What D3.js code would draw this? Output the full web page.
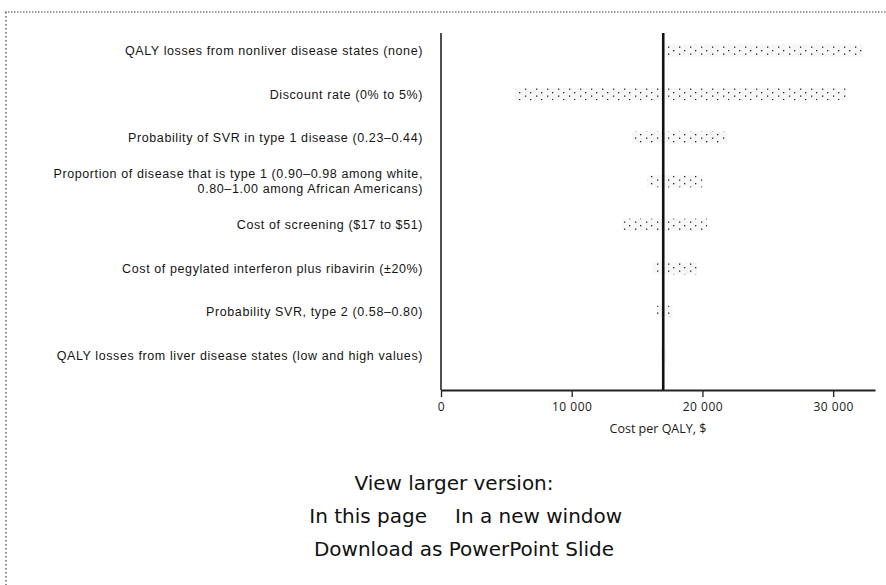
<!DOCTYPE html>
<html><head><meta charset="utf-8">
<script src="https://cdn.jsdelivr.net/npm/d3@7"></script>
<style>body{margin:0;background:#fff;} svg{display:block;}</style>
</head><body><svg id="chart" width="886" height="585"></svg>
<script>
// ---- data ----
const categories = [
  "QALY losses from nonliver disease states (none)",
  "Discount rate (0% to 5%)",
  "Probability of SVR in type 1 disease (0.23–0.44)",
  "Proportion of disease that is type 1 (0.90–0.98 among white,\n0.80–1.00 among African Americans)",
  "Cost of screening ($17 to $51)",
  "Cost of pegylated interferon plus ribavirin (±20%)",
  "Probability SVR, type 2 (0.58–0.80)",
  "QALY losses from liver disease states (low and high values)"
];
const lowValues  = [17000, 5700, 14600, 15800, 13850, 16200, 16500, 16800];
const highValues = [32300, 31000, 21900, 20000, 20350, 19600, 17700, 17300];
const baseValue = 17000;
const tickValues = [0, 10000, 20000, 30000];
const tickLabels = ["0", "10 000", "20 000", "30 000"];
const axisTitle = "Cost per QALY, $";
const footerLines = [["View larger version:"], ["In this page", "In a new window"], ["Download as PowerPoint Slide"]];

// ---- chart ----
const svg = d3.select("#chart");
const W = 886, H = 585;
const plotTop = 33, plotBottom = 390;
const x = d3.scaleLinear().domain([0, 33200]).range([441, 875]);
const y = d3.scaleBand().domain(categories).range([29, 377]).paddingInner(0.72).paddingOuter(0.36);

// page border (dotted, scanned look)
svg.append("line").attr("x1", 5).attr("x2", W).attr("y1", 12).attr("y2", 12)
  .attr("stroke", "#444").attr("stroke-width", 1.2).attr("stroke-dasharray", "1.5,1.5");
svg.append("line").attr("x1", 6).attr("x2", 6).attr("y1", 12).attr("y2", H)
  .attr("stroke", "#444").attr("stroke-width", 1.2).attr("stroke-dasharray", "1.5,2.5");

// speckled pattern for bars
const defs = svg.append("defs");
const pat = defs.append("pattern").attr("id", "speckle").attr("patternUnits", "userSpaceOnUse")
  .attr("width", 11).attr("height", 7);
pat.append("rect").attr("width", 11).attr("height", 7).attr("fill", "#f7f7f7");
pat.append("rect").attr("x", 2).attr("y", 1).attr("width", 1.3).attr("height", 1.3).attr("fill", "#222");
pat.append("rect").attr("x", 8).attr("y", 4.5).attr("width", 1.3).attr("height", 1.3).attr("fill", "#222");

// bars
const rows = categories.map((c, i) => ({c, lo: lowValues[i], hi: highValues[i]}));
svg.append("g").selectAll("rect").data(rows).join("rect")
  .attr("x", d => x(d.lo))
  .attr("width", d => x(d.hi) - x(d.lo))
  .attr("y", d => y(d.c))
  .attr("height", y.bandwidth())
  .attr("fill", "url(#speckle)");

// category labels (multi-line labels as one text with tspans)
const lab = svg.append("g").attr("font-family", "'Liberation Sans', Arial, sans-serif").attr("font-size", 12.5)
  .attr("letter-spacing", "0.6px").attr("fill", "#151515").attr("text-anchor", "end");
rows.forEach(d => {
  const lines = d.c.split("\n");
  const cy = y(d.c) + y.bandwidth() / 2;
  const lh = 15;
  const t = lab.append("text").attr("y", cy - (lines.length - 1) / 2 * lh);
  lines.forEach((ln, k) => {
    t.append("tspan").attr("x", 423).attr("dy", k === 0 ? "0.35em" : lh).text(ln);
  });
});

// left axis line
svg.append("line").attr("x1", x(0)).attr("x2", x(0)).attr("y1", plotTop).attr("y2", plotBottom)
  .attr("stroke", "#222").attr("stroke-width", 1.6);
// baseline
svg.append("line").attr("x1", x(baseValue)).attr("x2", x(baseValue)).attr("y1", plotTop).attr("y2", plotBottom)
  .attr("stroke", "#111").attr("stroke-width", 2.6);

// x axis
const xAxis = d3.axisBottom(x).tickValues(tickValues).tickFormat((d, i) => tickLabels[i])
  .tickSizeInner(7).tickSizeOuter(0).tickPadding(5);
const gx = svg.append("g").attr("transform", `translate(0,${plotBottom})`).call(xAxis);
gx.select(".domain").attr("stroke", "#222").attr("stroke-width", 1.8);
gx.selectAll(".tick line").attr("stroke", "#222").attr("stroke-width", 1.3);
gx.selectAll(".tick text").attr("font-family", "'Open Sans', sans-serif").attr("font-size", 12)
  .attr("letter-spacing", "0.5px").attr("fill", "#1a1a1a");

svg.append("text").attr("x", (x.range()[0] + x.range()[1]) / 2).attr("y", 433)
  .attr("text-anchor", "middle").attr("font-family", "'Open Sans', sans-serif").attr("font-size", 12.5)
  .attr("fill", "#1a1a1a").text(axisTitle);

// footer
const foot = svg.append("g").attr("font-family", "'DejaVu Sans', sans-serif").attr("font-size", 20).attr("fill", "#111");
foot.append("text").attr("x", 454).attr("y", 490).attr("text-anchor", "middle").text(footerLines[0][0]);
foot.append("text").attr("x", 427).attr("y", 523).attr("text-anchor", "end").text(footerLines[1][0]);
foot.append("text").attr("x", 455).attr("y", 523).attr("text-anchor", "start").text(footerLines[1][1]);
foot.append("text").attr("x", 464).attr("y", 556).attr("text-anchor", "middle").text(footerLines[2][0]);
</script></body></html>
